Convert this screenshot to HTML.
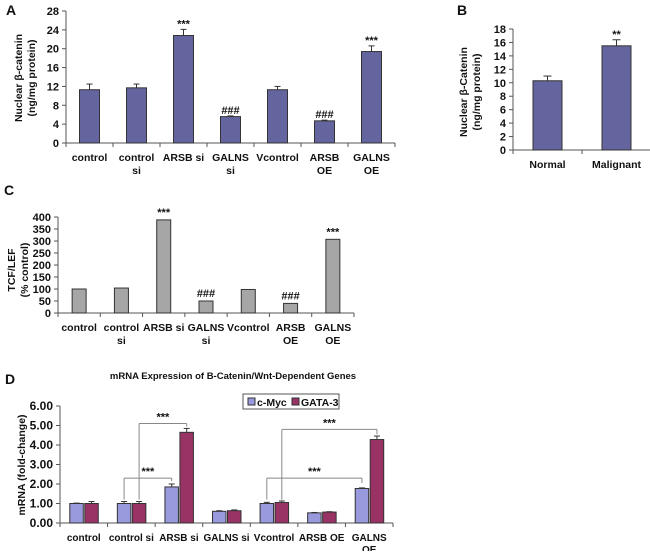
<!DOCTYPE html>
<html><head><meta charset="utf-8"><style>
body{margin:0;background:#fff;width:650px;height:551px;overflow:hidden}
svg{font-family:"Liberation Sans",Arial,sans-serif;font-weight:bold}
</style></head><body>
<svg id="s" width="650" height="551" xmlns="http://www.w3.org/2000/svg"></svg>
<script>
const catsA=[["control"],["control","si"],["ARSB si"],["GALNS","si"],["Vcontrol"],["ARSB","OE"],["GALNS","OE"]];
const valsA=[11.3,11.7,22.8,5.6,11.3,4.7,19.4];
const errA=[1.2,0.8,1.3,0.15,0.7,0.15,1.2];
const markA=["","","***","###","","###","***"];
const ticksA=[0,4,8,12,16,20,24,28];
const catsB=["Normal","Malignant"];
const valsB=[10.3,15.5];
const errB=[0.7,0.9];
const markB=["","**"];
const ticksB=[0,2,4,6,8,10,12,14,16,18];
const valsC=[100,104,388,50,98,40,307];
const markC=["","","***","###","","###","***"];
const ticksC=[0,50,100,150,200,250,300,350,400];
const catsD=[["control"],["control si"],["ARSB si"],["GALNS si"],["Vcontrol"],["ARSB OE"],["GALNS","OE"]];
const mycD=[1.0,1.0,1.85,0.6,1.0,0.52,1.77];
const gataD=[1.0,1.0,4.65,0.63,1.05,0.56,4.28];
const mycErr=[0.02,0.1,0.15,0.03,0.06,0.02,0.03];
const gataErr=[0.1,0.1,0.2,0.04,0.08,0.02,0.18];
const ticksD=[0,1,2,3,4,5,6];

const S=document.getElementById('s');const NS="http://www.w3.org/2000/svg";
function el(t,a,txt){const e=document.createElementNS(NS,t);for(const k in a)e.setAttribute(k,a[k]);if(txt!==undefined)e.textContent=txt;S.appendChild(e);return e;}
function txt(x,y,s,size,anchor,name,rot){const a={x:x,y:y,'font-size':size,'text-anchor':anchor||'middle',fill:'#111'};if(rot)a.transform=`rotate(-90 ${x} ${y})`;const e=el('text',a,s);

return e;}
function line(x1,y1,x2,y2,name,c){const e=el('line',{x1:x1,y1:y1,x2:x2,y2:y2,stroke:c||'#555','stroke-width':1});

return e;}
function rect(x,y,w,h,fill,name){const e=el('rect',{x:x,y:y,width:w,height:Math.max(0,h),fill:fill,stroke:'#333','stroke-width':1});

return e;}

function axes(x0,x1,y0,y1,max,ticks,n,fmt,tsize,prefix){
  const Y=v=>y0-(v/max)*(y0-y1);
  line(x0,y1,x0,y0,prefix+'-y-axis');line(x0,y0,x1,y0,prefix+'-x-axis');
  ticks.forEach(t=>{line(x0-4,Y(t),x0,Y(t),prefix+'-y-tick');txt(x0-7,Y(t)+4,fmt(t),tsize,'end',prefix+'-y-tick-label');});
  const w=(x1-x0)/n;for(let i=0;i<=n;i++)line(x0+i*w,y0,x0+i*w,y0+4,prefix+'-x-tick');
  return {Y:Y,X:i=>x0+w*(i+0.5),w:w};
}
// Panel A
txt(6,15,"A",14,'start','panel-a-label');
let a=axes(66,395,143,11,28,ticksA,7,t=>t,11,'chart-a');
valsA.forEach((v,i)=>{const cx=a.X(i);rect(cx-10,a.Y(v),20,143-a.Y(v),'#64659e','bar-a-'+i);
 line(cx,a.Y(v),cx,a.Y(v+errA[i]),'error-bar-a','#333');line(cx-3,a.Y(v+errA[i]),cx+3,a.Y(v+errA[i]),'error-cap-a','#333');
 if(markA[i])txt(cx,a.Y(v+errA[i])-2,markA[i],11,'middle','significance-a');
 catsA[i].forEach((l,j)=>txt(cx,161+j*13,l,10.5,'middle','x-label-a'));});
txt(22,78,"Nuclear β-catenin",10.5,'middle','y-axis-title-a',1);txt(35,78,"(ng/mg protein)",10.5,'middle','y-axis-title-a',1);
// Panel B
txt(457,15,"B",14,'start','panel-b-label');
let b=axes(513,651,150,29,18,ticksB,2,t=>t,11,'chart-b');
valsB.forEach((v,i)=>{const cx=b.X(i);rect(cx-14.5,b.Y(v),29,150-b.Y(v),'#64659e','bar-b-'+i);
 line(cx,b.Y(v),cx,b.Y(v+errB[i]),'error-bar-b','#333');line(cx-4,b.Y(v+errB[i]),cx+4,b.Y(v+errB[i]),'error-cap-b','#333');
 if(markB[i])txt(cx,b.Y(v+errB[i])-2,markB[i],11,'middle','significance-b');
 txt(cx,168,catsB[i],10.5,'middle','x-label-b');});
txt(467,92,"Nuclear β-Catenin",10.5,'middle','y-axis-title-b',1);txt(480,92,"(ng/mg protein)",10.5,'middle','y-axis-title-b',1);
// Panel C
txt(4,195,"C",14,'start','panel-c-label');
let c=axes(58,354,313,217,400,ticksC,7,t=>t,11,'chart-c');
valsC.forEach((v,i)=>{const cx=c.X(i);rect(cx-7,c.Y(v),14,313-c.Y(v),'#a6a6a6','bar-c-'+i);
 if(markC[i])txt(cx,c.Y(v)-4,markC[i],11,'middle','significance-c');
 catsA[i].forEach((l,j)=>txt(cx,331+j*13,l,10.5,'middle','x-label-c'));});
txt(15,270,"TCF/LEF",10.5,'middle','y-axis-title-c',1);txt(28,270,"(% control)",10.5,'middle','y-axis-title-c',1);
// Panel D
txt(5,384,"D",14,'start','panel-d-label');
txt(233,379,"mRNA Expression of B-Catenin/Wnt-Dependent Genes",9.5,'middle','chart-d-title');
let d=axes(60,393,523,406,6,ticksD,7,t=>t.toFixed(2),12,'chart-d');
mycD.forEach((v,i)=>{const cx=d.X(i);
 [[v,mycErr[i],'#9999dd',-14,'c-myc'],[gataD[i],gataErr[i],'#993366',1,'gata3']].forEach(([val,e,col,off,nm])=>{
  rect(cx+off,d.Y(val),13.5,523-d.Y(val),col,'bar-d-'+nm+'-'+i);
  const m=cx+off+6.75;line(m,d.Y(val),m,d.Y(val+e),'error-bar-d','#333');line(m-3,d.Y(val+e),m+3,d.Y(val+e),'error-cap-d','#333');});
 catsD[i].forEach((l,j)=>txt(cx,541+j*12,l,10,'middle','x-label-d'));});
txt(25,465,"mRNA (fold-change)",10.5,'middle','y-axis-title-d',1);
// brackets
function bracket(x1,x2,yTop,yl,yr,name){const c='#888';line(x1,yl,x1,yTop,name,c);line(x1,yTop,x2,yTop,name,c);line(x2,yTop,x2,yr,name,c);txt((x1+x2)/2,yTop-3,"***",11,'middle','significance-d');}
const mx=i=>d.X(i)-7.25, gx=i=>d.X(i)+7.75;
bracket(mx(1),mx(2),d.Y(2.3),d.Y(1.2),d.Y(2.15),'bracket-myc-arsb');
bracket(gx(1),gx(2),d.Y(5.1),d.Y(1.2),d.Y(4.95),'bracket-gata-arsb');
bracket(mx(4),mx(6),d.Y(2.3),d.Y(1.2),d.Y(2.05),'bracket-myc-galns');
bracket(gx(4),gx(6),d.Y(4.8),d.Y(1.2),d.Y(4.55),'bracket-gata-galns');
// legend
const lg=el('rect',{x:243,y:394,width:96,height:15,fill:'#fff',stroke:'#555'});


rect(248,398,7,7,'#9999dd','legend-swatch-c-myc');txt(257,406,"c-Myc",10.5,'start','legend-label-c-myc');
rect(292,398,7,7,'#993366','legend-swatch-gata3');txt(301,406,"GATA-3",10.5,'start','legend-label-gata3');
</script></body></html>
